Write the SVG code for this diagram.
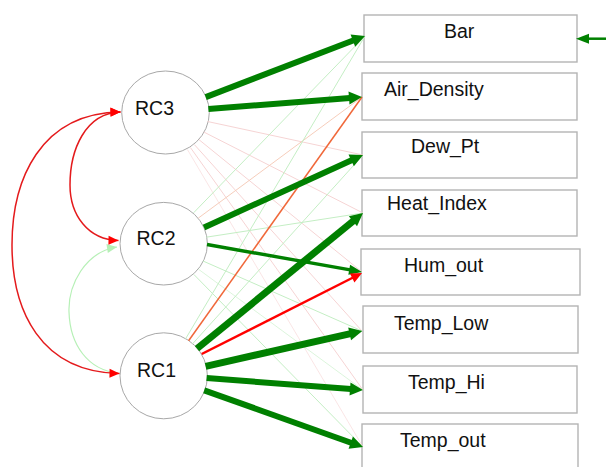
<svg xmlns="http://www.w3.org/2000/svg" width="606" height="467" viewBox="0 0 606 467">
  <style>
    .box { fill: #ffffff; stroke: #b4b4b4; stroke-width: 1.4; }
    .lat { fill: #ffffff; stroke: #a8a8a8; stroke-width: 1; }
    .lbl { font-family: "Liberation Sans", Arial, sans-serif; font-size: 19.5px; fill: #111111; }
    .thick { stroke: #008000; fill: none; }
    .faintG { stroke: #c4eec4; stroke-width: 1; fill: none; }
    .faintP { stroke: #f6d4d4; stroke-width: 1; fill: none; }
    .cov { fill: none; stroke: #e41a1c; stroke-width: 1.5; }
    .covG { fill: none; stroke: #b6f0b6; stroke-width: 1.2; }
  </style>
  <defs>
    <marker id="arrG" markerUnits="userSpaceOnUse" markerWidth="16" markerHeight="16" refX="0" refY="0" viewBox="-2 -8 16 16" orient="auto">
      <path d="M-1,-6.5 L12,0 L-1,6.5 Z" fill="#008000"/>
    </marker>
    <marker id="arrGm" markerUnits="userSpaceOnUse" markerWidth="14" markerHeight="14" refX="0" refY="0" viewBox="-2 -7 14 14" orient="auto">
      <path d="M-1,-5 L12,0 L-1,5 Z" fill="#008000"/>
    </marker>
    <marker id="arrR" markerUnits="userSpaceOnUse" markerWidth="14" markerHeight="14" refX="0" refY="0" viewBox="-2 -7 14 14" orient="auto">
      <path d="M-1,-5 L10,0 L-1,5 Z" fill="#ff0000"/>
    </marker>
    <marker id="covR" markerUnits="userSpaceOnUse" markerWidth="14" markerHeight="14" refX="10" refY="0" viewBox="-2 -7 14 14" orient="auto-start-reverse">
      <path d="M0,-4.5 L10,0 L0,4.5 Z" fill="#ff0000"/>
    </marker>
    <marker id="covG" markerUnits="userSpaceOnUse" markerWidth="14" markerHeight="14" refX="10" refY="0" viewBox="-2 -7 14 14" orient="auto-start-reverse">
      <path d="M0,-4.5 L10,0 L0,4.5 Z" fill="#b6f0b6"/>
    </marker>
  </defs>

  <!-- factors -->
  <g id="RC3">
    <ellipse class="lat" cx="165.5" cy="112.5" rx="43.8" ry="41.5"/>
    <text class="lbl" x="135" y="115">RC3</text>
  </g>
  <g id="RC2">
    <ellipse class="lat" cx="163.7" cy="243.7" rx="43.7" ry="41.3"/>
    <text class="lbl" x="136.5" y="245">RC2</text>
  </g>
  <g id="RC1">
    <ellipse class="lat" cx="163.7" cy="375.8" rx="43.7" ry="43"/>
    <text class="lbl" x="137" y="377">RC1</text>
  </g>

  <!-- indicators -->
  <g id="Bar">
    <rect class="box" x="364" y="15" width="213" height="47"/>
    <text class="lbl" x="444" y="37.5">Bar</text>
  </g>
  <g id="Air_Density">
    <rect class="box" x="362" y="73" width="215" height="47"/>
    <text class="lbl" x="384" y="96">Air_Density</text>
  </g>
  <g id="Dew_Pt">
    <rect class="box" x="362" y="132" width="215" height="46"/>
    <text class="lbl" x="411" y="153">Dew_Pt</text>
  </g>
  <g id="Heat_Index">
    <rect class="box" x="362" y="190" width="215" height="46"/>
    <text class="lbl" x="387" y="210">Heat_Index</text>
  </g>
  <g id="Hum_out">
    <rect class="box" x="361" y="249" width="219" height="46"/>
    <text class="lbl" x="404" y="272">Hum_out</text>
  </g>
  <g id="Temp_Low">
    <rect class="box" x="363" y="306" width="215" height="47"/>
    <text class="lbl" x="394" y="330">Temp_Low</text>
  </g>
  <g id="Temp_Hi">
    <rect class="box" x="363" y="366" width="214" height="47"/>
    <text class="lbl" x="408" y="389">Temp_Hi</text>
  </g>
  <g id="Temp_out">
    <rect class="box" x="362" y="424" width="216" height="50"/>
    <text class="lbl" x="400" y="447">Temp_out</text>
  </g>

  <g id="connectors">
    <!-- weak loadings -->
    <line class="faintP" x1="207.5" y1="121.5" x2="363" y2="155"/>
    <line class="faintP" x1="203.8" y1="132" x2="363" y2="213"/>
    <line class="faintP" x1="198.9" y1="139.6" x2="362" y2="272"/>
    <line class="faintP" x1="194.3" y1="144.5" x2="362" y2="331"/>
    <line class="faintP" x1="190.4" y1="147.5" x2="363" y2="390"/>
    <line class="faintP" x1="187.4" y1="149.5" x2="363" y2="447" opacity="0.6"/>
    <line class="faintG" x1="193.6" y1="212.8" x2="365" y2="36"/>
    <line x1="198.3" y1="218.1" x2="362" y2="97" stroke="#f6cdbb" stroke-width="1"/>
    <line class="faintG" x1="206.2" y1="237.2" x2="363" y2="213"/>
    <line class="faintG" x1="203" y1="261" x2="362" y2="331"/>
    <line class="faintG" x1="198.4" y1="269.2" x2="363" y2="390" opacity="0.6"/>
    <line class="faintG" x1="193.8" y1="274.4" x2="363" y2="447"/>
    <line class="faintG" x1="185.6" y1="338.8" x2="365" y2="36"/>
    <line class="faintG" x1="192.5" y1="343.9" x2="363" y2="155"/>
    <line x1="188.6" y1="340.8" x2="362" y2="97" stroke="#f0683a" stroke-width="1.5"/>

    <!-- strong loadings -->
    <line class="thick" stroke-width="6" x1="205.7" y1="97.1" x2="353.8" y2="40.3" marker-end="url(#arrG)"/>
    <line class="thick" stroke-width="6" x1="208.4" y1="109.1" x2="350" y2="97.9" marker-end="url(#arrG)"/>
    <line class="thick" stroke-width="6" x1="204" y1="227.5" x2="352.1" y2="160" marker-end="url(#arrG)"/>
    <line class="thick" stroke-width="7" x1="197" y1="348.6" x2="353.7" y2="220.6" marker-end="url(#arrG)"/>
    <line class="thick" stroke-width="3.5" x1="207" y1="244.5" x2="350.2" y2="269.9" marker-end="url(#arrGm)"/>
    <line x1="201.7" y1="354" x2="353.1" y2="277.5" stroke="#ff0000" stroke-width="2.5" marker-end="url(#arrR)"/>
    <line class="thick" stroke-width="7" x1="205.6" y1="366.3" x2="350.6" y2="333.6" marker-end="url(#arrG)"/>
    <line class="thick" stroke-width="6" x1="206.6" y1="378" x2="351" y2="389.1" marker-end="url(#arrG)"/>
    <line class="thick" stroke-width="6" x1="204.2" y1="390.3" x2="351.7" y2="443" marker-end="url(#arrG)"/>

    <!-- residual on Bar -->
    <line x1="606" y1="38.7" x2="588" y2="38.7" stroke="#008000" stroke-width="2.5" marker-end="url(#arrGm)"/>

    <!-- factor covariances -->
    <path class="covG" d="M117,247 C 85,252 68,285 69,312 C 70,345 88,370 118,373" marker-start="url(#covG)"/>
    <path class="cov" d="M120.5,112 C 40,113 12,180 12,245 C 12,310 40,372 119.5,373.5" marker-start="url(#covR)" marker-end="url(#covR)"/>
    <path class="cov" d="M120.5,112 C 85,113 70,150 70,185 C 70,215 88,240 118.5,240.5" marker-start="url(#covR)" marker-end="url(#covR)"/>
  </g>
</svg>
